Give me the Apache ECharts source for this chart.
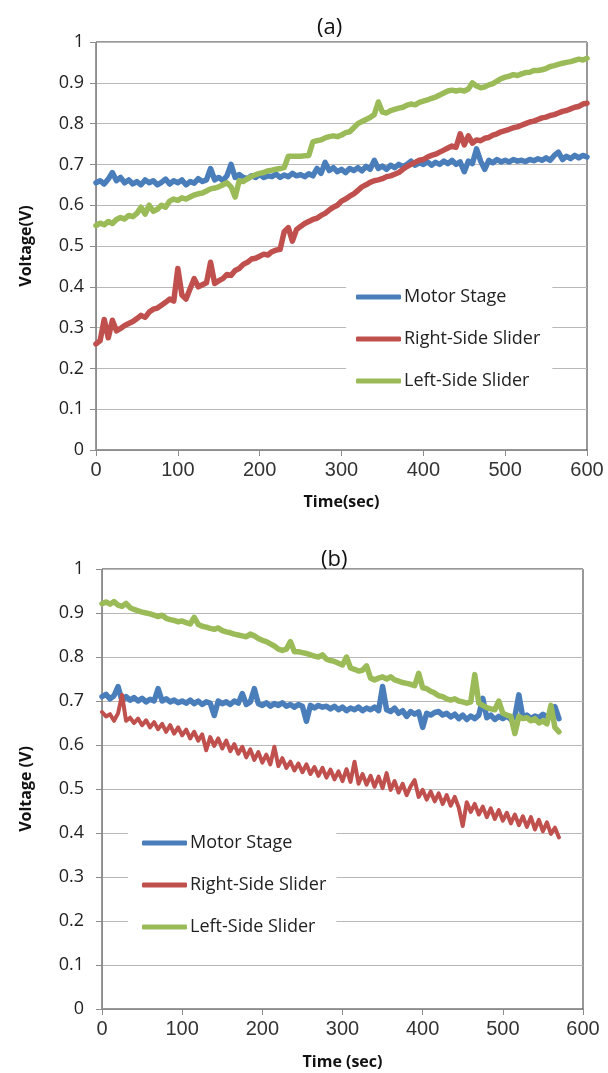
<!DOCTYPE html>
<html lang="en">
<head>
    <meta charset="UTF-8">
    <title>Voltage vs time</title>
    <script src="https://cdn.jsdelivr.net/npm/echarts@6/dist/echarts.min.js"></script>
    <style>
        html, body { margin: 0; padding: 0; background: #fff; }
    </style>
</head>
<body>
<div id="container" style="width: 608px; height: 1073px"></div>

<script type="text/javascript">
    // sampling step (sec) of the recorded traces
    var stepA = 5;
    var stepB = 5;
    var names = ['Motor Stage', 'Right-Side Slider', 'Left-Side Slider'];
    var colors = ['#4a7ebb', '#c0504d', '#9bbb59'];

    // (a) 0..600 s
    var motorA = [
        0.655, 0.660, 0.652, 0.664, 0.680, 0.660, 0.668, 0.655, 0.662, 0.652, 0.658, 0.650, 0.662, 0.655, 0.660, 0.650, 0.656, 0.664, 0.652, 0.660,
        0.655, 0.662, 0.650, 0.658, 0.654, 0.665, 0.658, 0.662, 0.690, 0.662, 0.668, 0.660, 0.672, 0.700, 0.668, 0.675, 0.668, 0.665, 0.672, 0.668,
        0.675, 0.668, 0.672, 0.670, 0.676, 0.668, 0.674, 0.670, 0.678, 0.672, 0.675, 0.670, 0.677, 0.672, 0.690, 0.678, 0.705, 0.685, 0.692, 0.682,
        0.688, 0.680, 0.690, 0.685, 0.692, 0.684, 0.695, 0.688, 0.710, 0.690, 0.696, 0.688, 0.698, 0.692, 0.700, 0.695, 0.700, 0.708, 0.698, 0.704,
        0.700, 0.706, 0.698, 0.705, 0.700, 0.708, 0.702, 0.710, 0.700, 0.706, 0.682, 0.708, 0.702, 0.738, 0.708, 0.688, 0.710, 0.704, 0.712, 0.706,
        0.710, 0.706, 0.712, 0.708, 0.710, 0.707, 0.712, 0.709, 0.714, 0.710, 0.716, 0.710, 0.722, 0.730, 0.712, 0.720, 0.714, 0.722, 0.716, 0.722, 0.718
    ];
    var rightA = [
        0.260, 0.268, 0.320, 0.275, 0.318, 0.292, 0.298, 0.305, 0.310, 0.315, 0.322, 0.330, 0.325, 0.338, 0.345, 0.348, 0.355, 0.362, 0.370, 0.365,
        0.445, 0.380, 0.370, 0.395, 0.420, 0.400, 0.405, 0.410, 0.460, 0.408, 0.415, 0.420, 0.430, 0.428, 0.440, 0.445, 0.455, 0.460, 0.468, 0.470,
        0.475, 0.480, 0.478, 0.486, 0.490, 0.492, 0.535, 0.545, 0.512, 0.540, 0.548, 0.555, 0.560, 0.565, 0.568, 0.575, 0.580, 0.588, 0.595, 0.600,
        0.610, 0.615, 0.622, 0.628, 0.636, 0.645, 0.650, 0.656, 0.660, 0.662, 0.665, 0.670, 0.672, 0.676, 0.680, 0.688, 0.695, 0.700, 0.705, 0.710,
        0.712, 0.718, 0.722, 0.725, 0.730, 0.735, 0.740, 0.745, 0.742, 0.775, 0.748, 0.770, 0.752, 0.760, 0.758, 0.764, 0.766, 0.772, 0.775, 0.780,
        0.783, 0.786, 0.790, 0.792, 0.796, 0.800, 0.804, 0.806, 0.810, 0.814, 0.816, 0.820, 0.822, 0.826, 0.830, 0.832, 0.836, 0.840, 0.842, 0.848, 0.850
    ];
    var leftA = [
        0.550, 0.556, 0.552, 0.560, 0.555, 0.565, 0.570, 0.566, 0.575, 0.572, 0.580, 0.595, 0.578, 0.600, 0.585, 0.590, 0.600, 0.595, 0.610, 0.615,
        0.612, 0.618, 0.615, 0.620, 0.625, 0.628, 0.630, 0.635, 0.640, 0.642, 0.645, 0.650, 0.655, 0.645, 0.620, 0.660, 0.658, 0.665, 0.670, 0.675,
        0.678, 0.680, 0.684, 0.686, 0.688, 0.690, 0.692, 0.720, 0.720, 0.720, 0.720, 0.721, 0.722, 0.755, 0.758, 0.760, 0.765, 0.768, 0.770, 0.768,
        0.772, 0.778, 0.780, 0.790, 0.800, 0.805, 0.810, 0.815, 0.822, 0.853, 0.828, 0.826, 0.832, 0.835, 0.838, 0.840, 0.845, 0.848, 0.846, 0.852,
        0.855, 0.858, 0.862, 0.865, 0.870, 0.875, 0.880, 0.882, 0.880, 0.882, 0.880, 0.885, 0.900, 0.892, 0.888, 0.890, 0.895, 0.898, 0.904, 0.910,
        0.914, 0.916, 0.920, 0.918, 0.922, 0.925, 0.926, 0.930, 0.930, 0.932, 0.935, 0.940, 0.942, 0.945, 0.948, 0.950, 0.952, 0.955, 0.958, 0.956, 0.960
    ];

    // (b) 0..570 s
    var motorB = [
        0.710, 0.715, 0.705, 0.712, 0.733, 0.700, 0.710, 0.702, 0.708, 0.700, 0.706, 0.698, 0.704, 0.700, 0.728, 0.700, 0.705, 0.698, 0.702, 0.696,
        0.700, 0.695, 0.702, 0.694, 0.700, 0.692, 0.698, 0.695, 0.667, 0.700, 0.694, 0.698, 0.692, 0.700, 0.695, 0.717, 0.692, 0.698, 0.728, 0.694,
        0.690, 0.696, 0.688, 0.694, 0.690, 0.696, 0.688, 0.692, 0.686, 0.692, 0.688, 0.654, 0.690, 0.684, 0.690, 0.686, 0.688, 0.682, 0.688, 0.680,
        0.686, 0.678, 0.684, 0.680, 0.686, 0.678, 0.684, 0.680, 0.686, 0.678, 0.733, 0.680, 0.676, 0.684, 0.672, 0.678, 0.665, 0.676, 0.670, 0.675,
        0.640, 0.672, 0.668, 0.674, 0.676, 0.668, 0.672, 0.664, 0.670, 0.660, 0.668, 0.658, 0.666, 0.660, 0.668, 0.706, 0.662, 0.668, 0.658, 0.665,
        0.660, 0.666, 0.658, 0.664, 0.714, 0.662, 0.668, 0.660, 0.666, 0.662, 0.670, 0.664, 0.668, 0.687, 0.660
    ];
    var rightB = [
        0.675, 0.665, 0.670, 0.655, 0.672, 0.714, 0.655, 0.662, 0.650, 0.660, 0.645, 0.656, 0.640, 0.652, 0.636, 0.648, 0.630, 0.645, 0.626, 0.640,
        0.622, 0.635, 0.615, 0.630, 0.610, 0.624, 0.588, 0.618, 0.598, 0.615, 0.592, 0.610, 0.586, 0.602, 0.580, 0.596, 0.572, 0.590, 0.566, 0.584,
        0.560, 0.578, 0.556, 0.596, 0.552, 0.570, 0.548, 0.562, 0.542, 0.558, 0.538, 0.556, 0.534, 0.550, 0.530, 0.548, 0.526, 0.544, 0.522, 0.540,
        0.518, 0.545, 0.516, 0.562, 0.512, 0.534, 0.510, 0.530, 0.505, 0.528, 0.502, 0.536, 0.498, 0.518, 0.492, 0.512, 0.486, 0.506, 0.520, 0.482,
        0.498, 0.476, 0.494, 0.472, 0.490, 0.466, 0.486, 0.462, 0.482, 0.458, 0.416, 0.470, 0.448, 0.466, 0.442, 0.460, 0.436, 0.456, 0.432, 0.452,
        0.428, 0.446, 0.422, 0.442, 0.418, 0.438, 0.414, 0.436, 0.408, 0.430, 0.404, 0.424, 0.398, 0.412, 0.390
    ];
    var leftB = [
        0.921, 0.925, 0.920, 0.926, 0.918, 0.915, 0.922, 0.912, 0.908, 0.905, 0.902, 0.900, 0.898, 0.895, 0.892, 0.895, 0.888, 0.885, 0.883, 0.880,
        0.882, 0.878, 0.875, 0.890, 0.874, 0.870, 0.868, 0.865, 0.863, 0.866, 0.860, 0.857, 0.855, 0.852, 0.850, 0.848, 0.846, 0.852, 0.848, 0.842,
        0.838, 0.835, 0.830, 0.825, 0.818, 0.815, 0.818, 0.835, 0.812, 0.812, 0.810, 0.808, 0.805, 0.802, 0.800, 0.805, 0.795, 0.792, 0.790, 0.786,
        0.782, 0.800, 0.775, 0.772, 0.768, 0.770, 0.780, 0.752, 0.748, 0.752, 0.755, 0.750, 0.755, 0.748, 0.745, 0.742, 0.740, 0.738, 0.735, 0.763,
        0.730, 0.728, 0.722, 0.718, 0.712, 0.710, 0.705, 0.702, 0.705, 0.700, 0.698, 0.695, 0.698, 0.760, 0.695, 0.690, 0.685, 0.682, 0.680, 0.700,
        0.672, 0.668, 0.665, 0.626, 0.665, 0.660, 0.662, 0.655, 0.660, 0.650, 0.655, 0.648, 0.690, 0.640, 0.630
    ];

    function pairs(vals, step) {
        var out = [];
        for (var i = 0; i < vals.length; i++) {
            out.push([i * step, vals[i]]);
        }
        return out;
    }

    var font = "'Open Sans', 'Noto Sans', sans-serif";
    var narrow = "'Liberation Sans Narrow', 'Liberation Sans', sans-serif";

    var dom = document.getElementById('container');
    var myChart = echarts.init(dom, null, { renderer: 'canvas' });

    function xAxisFor(gi, name, gap) {
        return {
            gridIndex: gi, type: 'value', min: 0, max: 600, interval: 100,
            name: name, nameLocation: 'middle', nameGap: gap,
            nameTextStyle: { fontFamily: font, fontWeight: 'bold', fontSize: 16, color: '#111' },
            axisLine: { lineStyle: { color: '#8c8c8c' } },
            axisTick: { show: true, length: 6, lineStyle: { color: '#8c8c8c' } },
            axisLabel: { fontFamily: narrow, fontSize: 20, color: '#333', margin: 10 },
            splitLine: { show: false }
        };
    }
    function yAxisFor(gi, name, gap, margin) {
        return {
            gridIndex: gi, type: 'value', min: 0, max: 1, interval: 0.1,
            name: name, nameLocation: 'middle', nameGap: gap,
            nameTextStyle: { fontFamily: font, fontWeight: 'bold', fontSize: 16, color: '#111' },
            axisLine: { show: true, lineStyle: { color: '#8c8c8c' } },
            axisTick: { show: true, length: 6, lineStyle: { color: '#8c8c8c' } },
            axisLabel: {
                fontFamily: font, fontSize: 18, color: '#222', margin: margin,
                formatter: function (v) { return String(+v.toFixed(1)); }
            },
            splitLine: { show: true, lineStyle: { color: '#b8b8b8', width: 1 } }
        };
    }
    function legendFor(gi, left, top, padding) {
        return {
            orient: 'vertical', left: left, top: top,
            data: names.map(function (n) { return n + ' '.repeat(gi); }),
            formatter: function (n) { return n.trim(); },
            icon: 'roundRect', itemWidth: 45, itemHeight: 5, itemGap: 20,
            backgroundColor: '#fff', padding: padding,
            textStyle: { fontFamily: font, fontSize: 18, color: '#222', lineHeight: 22, padding: [0, 0, 0, -2] }
        };
    }
    function seriesFor(gi, list, step, widths) {
        return list.map(function (vals, k) {
            return {
                name: names[k] + ' '.repeat(gi), type: 'line',
                xAxisIndex: gi, yAxisIndex: gi,
                data: pairs(vals, step),
                showSymbol: false, symbol: 'none',
                color: colors[k],
                lineStyle: { width: widths[k], color: colors[k], join: 'round', cap: 'round' }
            };
        });
    }

    var option = {
        animation: false,
        backgroundColor: '#fff',
        title: [
            { text: '(a)', left: 312, top: 12, textStyle: { fontFamily: font, fontSize: 22, fontWeight: 'normal', color: '#111' } },
            { text: '(b)', left: 316, top: 544, textStyle: { fontFamily: font, fontSize: 22, fontWeight: 'normal', color: '#111' } }
        ],
        grid: [
            { left: 96, right: 21, top: 42, height: 408, show: true, borderColor: '#333', borderWidth: 1 },
            { left: 102, right: 25, top: 569, height: 440, show: true, borderColor: '#333', borderWidth: 1 }
        ],
        xAxis: [xAxisFor(0, 'Time(sec)', 44), xAxisFor(1, 'Time (sec)', 45)],
        yAxis: [yAxisFor(0, 'Voltage(V)', 62, 12), yAxisFor(1, 'Voltage (V)', 68, 18)],
        legend: [
            legendFor(0, 346, 278, [8, 12, 9, 10]),
            legendFor(1, 128, 826, [6, 10, 8, 14])
        ],
        series: seriesFor(0, [motorA, rightA, leftA], stepA, [5.5, 5.5, 5.5])
            .concat(seriesFor(1, [motorB, rightB, leftB], stepB, [5.5, 4, 5.5]))
    };

    myChart.setOption(option);
    window.addEventListener('resize', myChart.resize);
</script>
</body>
</html>
